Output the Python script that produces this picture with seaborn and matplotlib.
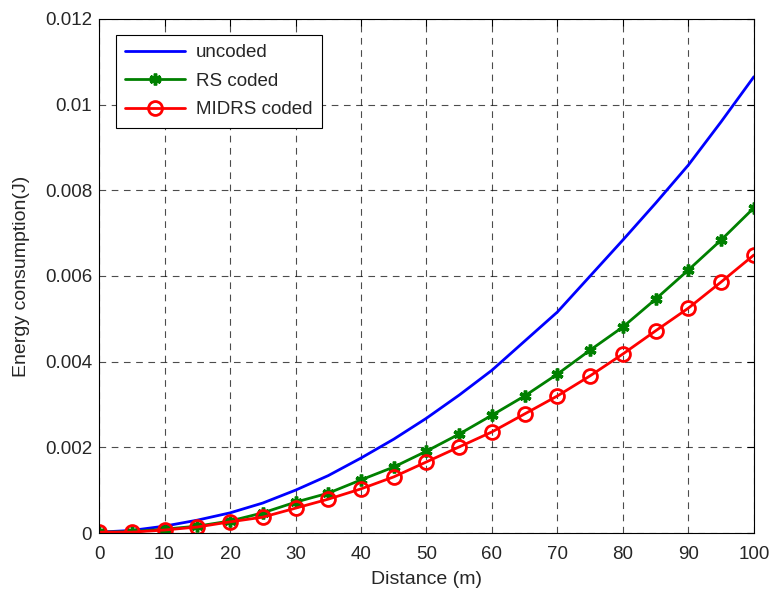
import matplotlib
matplotlib.use("Agg")
import matplotlib.pyplot as plt
import seaborn as sns
import pandas as pd
import numpy as np

distance = [0, 5, 10, 15, 20, 25, 30, 35, 40, 45, 50, 55, 60, 65, 70, 75, 80, 85, 90, 95, 100]
uncoded = [0.00002, 0.00006, 0.00016, 0.00030, 0.00047, 0.00070, 0.00100, 0.00134, 0.00175, 0.00219,
           0.00268, 0.00322, 0.00380, 0.00448, 0.00516, 0.00600, 0.00684, 0.00770, 0.00859, 0.00960, 0.01065]
rs_coded = [0.00002, 0.00003, 0.00009, 0.00016, 0.00028, 0.00047, 0.00072, 0.00093, 0.00124, 0.00154,
            0.00191, 0.00231, 0.00275, 0.00320, 0.00371, 0.00427, 0.00481, 0.00546, 0.00614, 0.00684, 0.00759]
midrs_coded = [0.00002, 0.00002, 0.00007, 0.00014, 0.00026, 0.00037, 0.00058, 0.00079, 0.00103, 0.00131,
               0.00166, 0.00201, 0.00236, 0.00278, 0.00320, 0.00367, 0.00418, 0.00472, 0.00525, 0.00586, 0.00649]
series_names = ["uncoded", "RS coded", "MIDRS coded"]
x_ticks = [0, 10, 20, 30, 40, 50, 60, 70, 80, 90, 100]
y_ticks = [0, 0.002, 0.004, 0.006, 0.008, 0.01, 0.012]
y_tick_labels = ["0", "0.002", "0.004", "0.006", "0.008", "0.01", "0.012"]

sns.set_style("white")
plt.rcParams['font.family'] = ['Liberation Sans', 'DejaVu Sans']

fig = plt.figure(figsize=(7.74, 5.9), dpi=100)
ax = fig.add_axes([0.128, 0.0966, 0.846, 0.8713])

sns.lineplot(x=distance, y=uncoded, ax=ax, color="#0000ff", linewidth=2, label=series_names[0])
sns.lineplot(x=distance, y=rs_coded, ax=ax, color="#008000", linewidth=2, marker=(6, 2, 0),
             markersize=8.5, markeredgewidth=2.5, markeredgecolor="#008000", label=series_names[1])
sns.lineplot(x=distance, y=midrs_coded, ax=ax, color="#ff0000", linewidth=2, marker="o",
             markersize=10, markerfacecolor="none", markeredgewidth=2, markeredgecolor="#ff0000",
             label=series_names[2])

fs = 13.5
ax.set_xlim(0, 100)
ax.set_ylim(0, 0.012)
ax.set_xticks(x_ticks)
ax.set_xticklabels([str(t) for t in x_ticks], fontsize=fs)
ax.set_yticks(y_ticks)
ax.set_yticklabels(y_tick_labels, fontsize=fs)
ax.grid(True, color="black", linestyle=(0, (6, 5)), linewidth=0.8, alpha=0.7)
ax.tick_params(axis="x", direction="in", length=5, color="black", top=True, pad=9)
ax.tick_params(axis="y", direction="in", length=5, color="black", right=True, pad=5)
for s in ax.spines.values():
    s.set_color("black")
    s.set_linewidth(0.8)
ax.set_xlabel("Distance (m)", fontsize=14, labelpad=6)
ax.set_ylabel("Energy consumption(J)", fontsize=14, labelpad=11)

leg = ax.legend(loc="upper left", bbox_to_anchor=(0.026, 0.969), borderaxespad=0, fontsize=fs,
                frameon=True, fancybox=False, edgecolor="black", framealpha=1, handlelength=3.2,
                handletextpad=0.55, borderpad=0.5, labelspacing=0.6)
leg.get_frame().set_linewidth(0.8)

fig.savefig("out.png", dpi=100)
